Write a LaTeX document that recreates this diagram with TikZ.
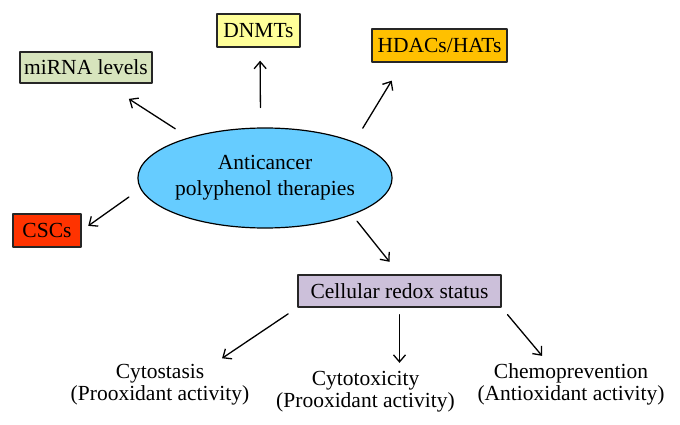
\documentclass[tikz,border=0pt]{standalone}
\usepackage{fontspec}
\setmainfont{Liberation Serif}
\usetikzlibrary{arrows.meta,shapes.geometric}
\definecolor{ellcol}{HTML}{66CCFF}
\definecolor{mirnacol}{HTML}{D7E4BD}
\definecolor{dnmtcol}{HTML}{FFFF99}
\definecolor{hdaccol}{HTML}{FFC000}
\definecolor{csccol}{HTML}{FF3300}
\definecolor{redoxcol}{HTML}{CCC0DA}
\begin{document}
\begin{tikzpicture}[x=1pt, y=-1pt, font=\fontsize{21.5}{22}\selectfont, line join=round, line cap=round, >={Straight Barb[length=7pt,width=12pt]},
	box/.style={draw=black!85, line width=1.4pt, inner sep=0pt, minimum height=33pt},
	txt/.style={align=center, inner sep=0pt},
	arr/.style={->, line width=1.3pt}]
	\useasboundingbox (0,0) rectangle (680,425);
	% centre
	\node[ellipse, draw, fill=ellcol, line width=1.2pt, minimum width=235pt, minimum height=100pt, inner sep=0pt, align=center, font=\fontsize{21.5}{26}\selectfont] (main) at (265,178) {Anticancer\\polyphenol therapies};
	% targets
	\node[box, fill=mirnacol, minimum width=132pt, minimum height=31pt] (mirna) at (86,67.5) {miRNA levels};
	\node[box, fill=dnmtcol, minimum width=83pt] (dnmt) at (258.5,30.5) {DNMTs};
	\node[box, fill=hdaccol, minimum width=135pt] (hdac) at (439.5,45.5) {HDACs/HATs};
	\node[box, fill=csccol, minimum width=68pt] (csc) at (47,230.5) {CSCs};
	\node[box, fill=redoxcol, minimum width=203pt, minimum height=32pt] (redox) at (399.5,291) {Cellular redox status};
	% outcomes
	\node[txt] (cytostasis) at (160,384.5) {Cytostasis\\(Prooxidant activity)};
	\node[txt] (cytotoxicity) at (365.5,391.5) {Cytotoxicity\\(Prooxidant activity)};
	\node[txt] (chemo) at (571,384.5) {Chemoprevention\\(Antioxidant activity)};
	% arrows
	\draw[arr, shorten <=16pt, shorten >=28pt] (main.152) -- (mirna.-40);
	\draw[arr, shorten <=20pt, shorten >=13pt] (main.95) -- (dnmt.-85);
	\draw[arr, shorten <=16pt, shorten >=21pt] (main.22) -- (hdac.205);
	\draw[arr, shorten <=14pt, shorten >=8pt] (main.185) -- (csc.east);
	\draw[arr, shorten <=8pt, shorten >=16pt] (main.-23) -- (redox.north);
	\draw[arr, shorten <=11pt, shorten >=10pt] (redox.south west) -- (cytostasis.21);
	\draw[arr, shorten <=7pt, shorten >=8pt] (redox.south) -- (redox.south |- cytotoxicity.north);
	\draw[arr, shorten <=9pt, shorten >=10pt] (redox.south east) -- (chemo.137);
\end{tikzpicture}
\end{document}
